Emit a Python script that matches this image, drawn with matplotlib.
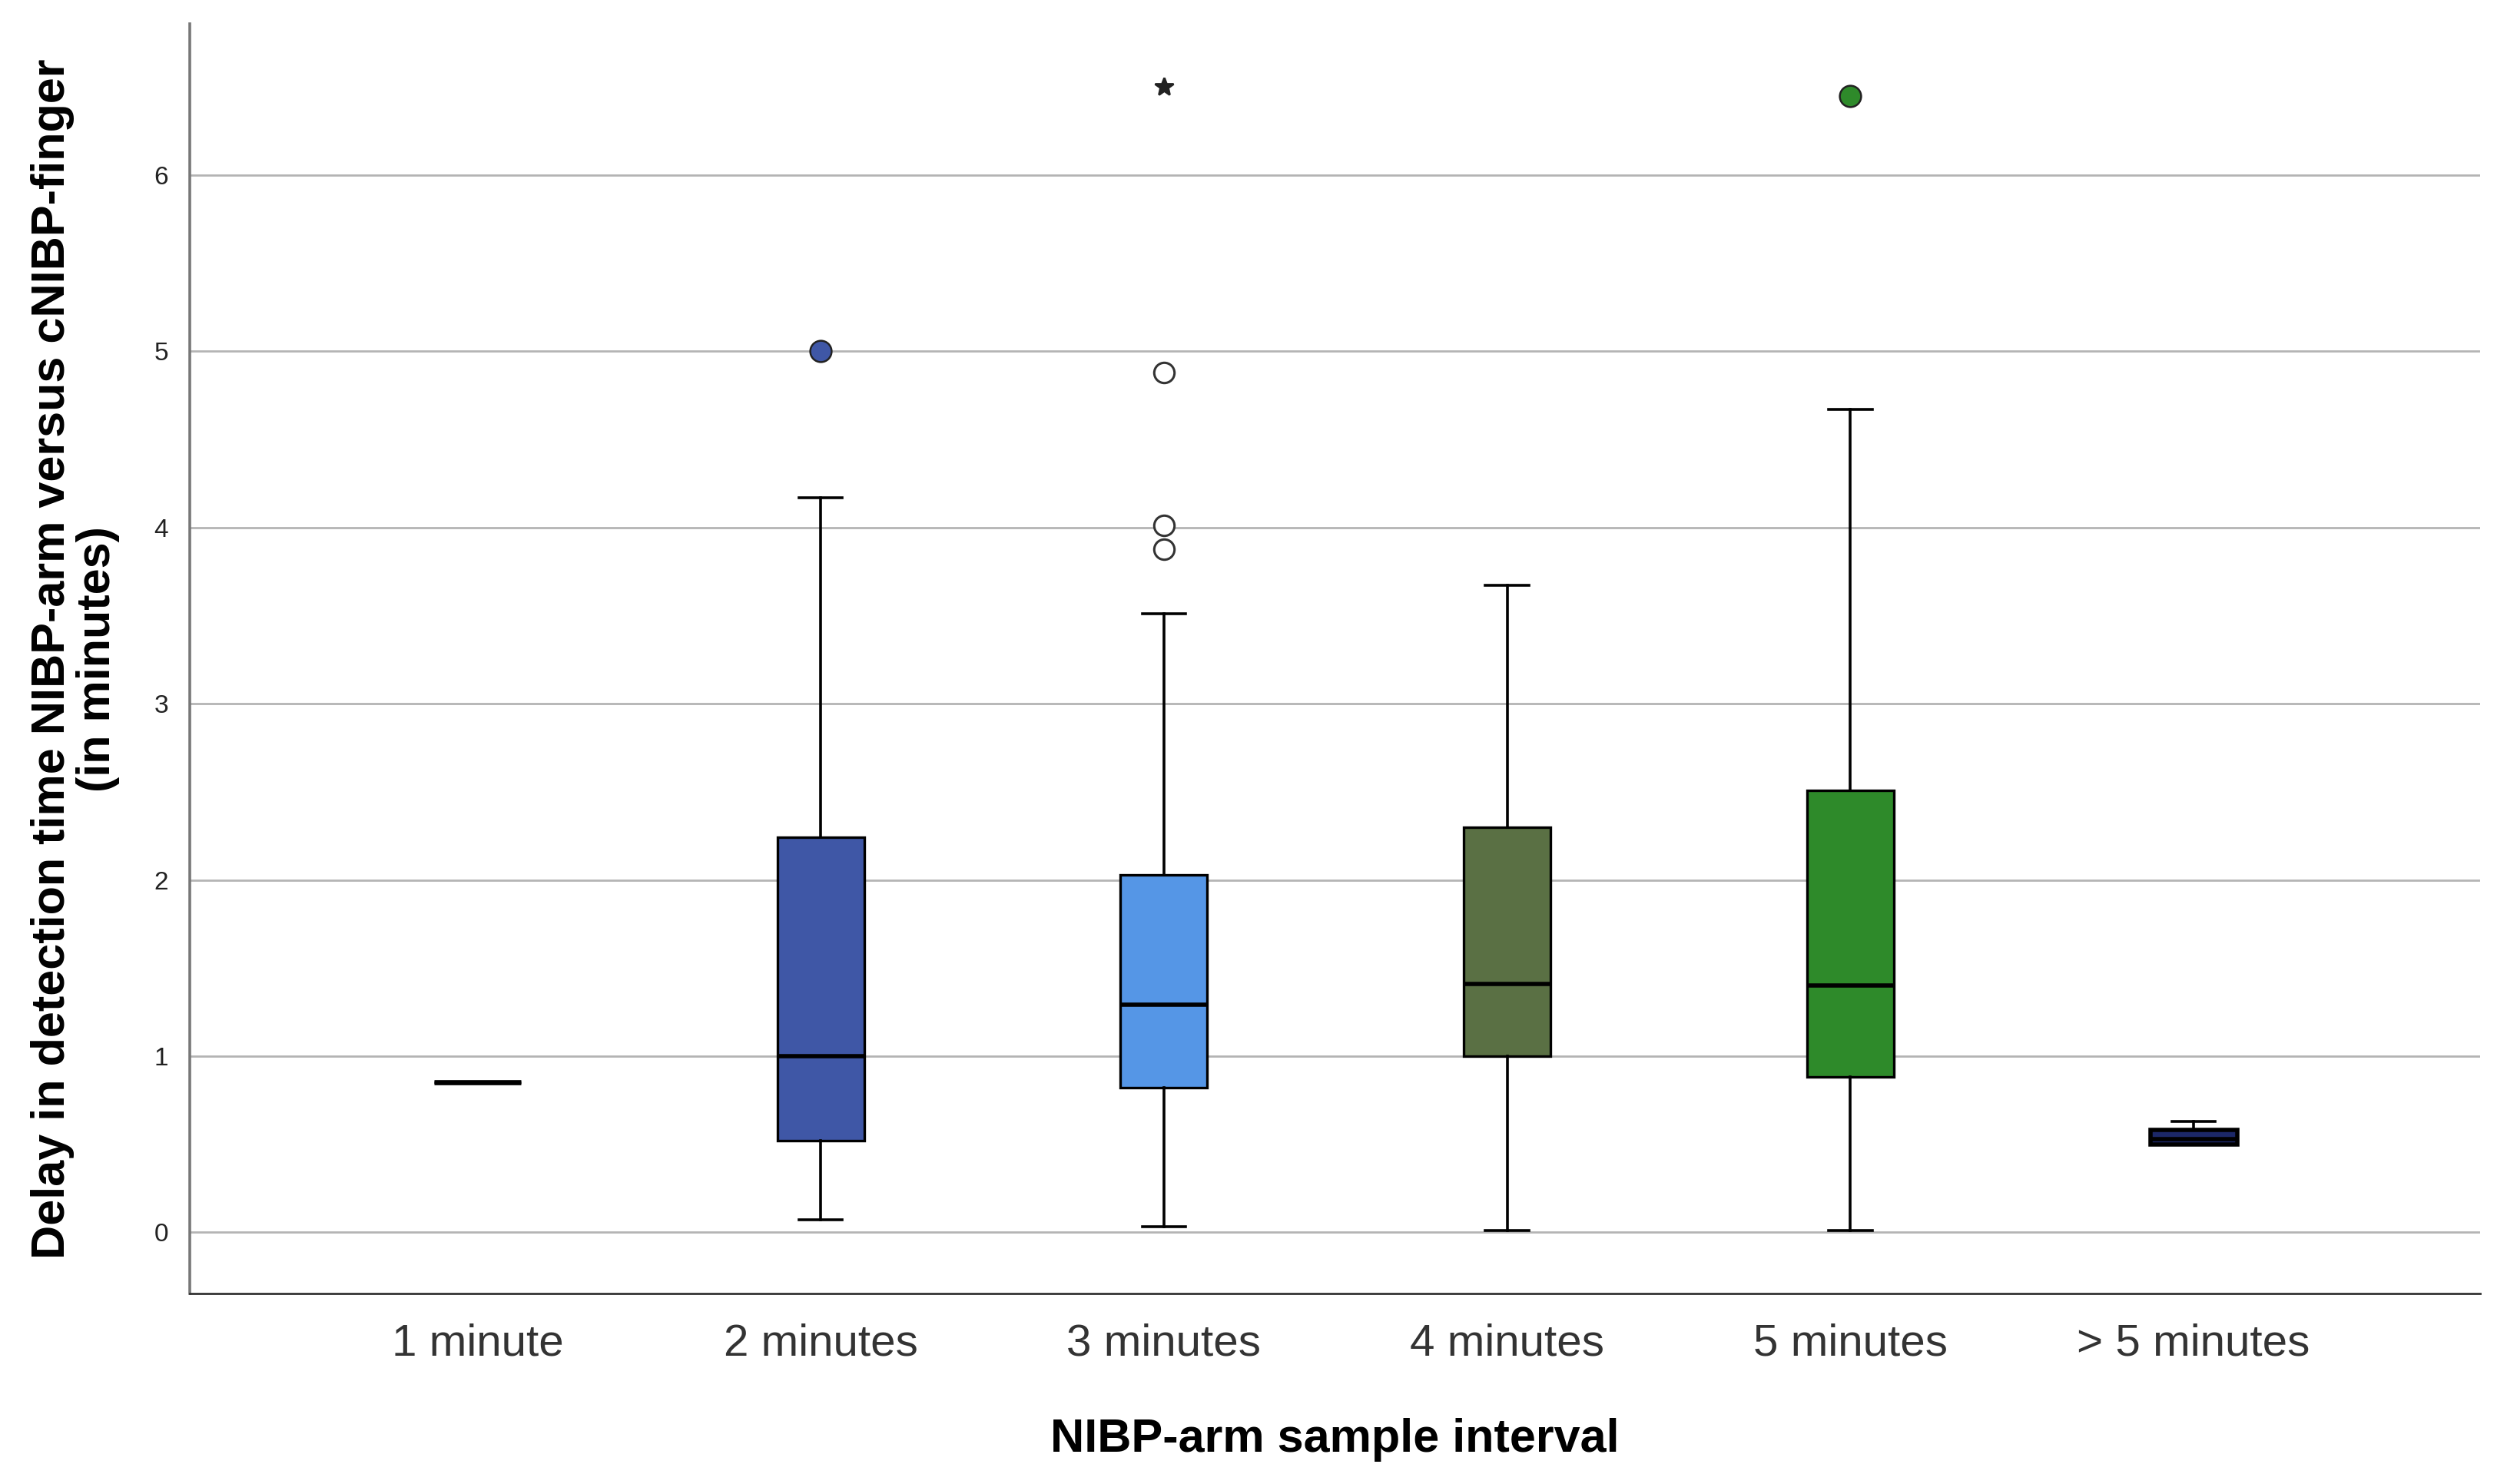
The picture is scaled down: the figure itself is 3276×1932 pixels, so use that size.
import matplotlib
matplotlib.use('Agg')
import matplotlib.pyplot as plt

plt.rcParams['font.family'] = ['Liberation Sans', 'DejaVu Sans']

# summary statistics (minutes)
labels = ['1 minute', '2 minutes', '3 minutes', '4 minutes', '5 minutes', '> 5 minutes']
q1 = [0.85, 0.52, 0.82, 1.00, 0.88, 0.50]
med = [0.85, 1.00, 1.29, 1.41, 1.40, 0.53]
q3 = [0.85, 2.24, 2.03, 2.30, 2.51, 0.58]
whislo = [0.85, 0.07, 0.03, 0.01, 0.01, 0.50]
whishi = [0.85, 4.17, 3.51, 3.67, 4.67, 0.63]
outliers = [[], [5.00], [4.88, 4.01, 3.875], [], [6.45], []]
extremes = [[], [], [6.50], [], [], []]
colors = ['#3F57A6', '#3F57A6', '#5596E6', '#5A7044', '#2E8A2A', '#1C2868']

stats = []
for i in range(len(labels)):
    stats.append({'label': labels[i], 'q1': q1[i], 'med': med[i], 'q3': q3[i],
                  'whislo': whislo[i], 'whishi': whishi[i], 'fliers': []})

fig = plt.figure(figsize=(16.38, 9.66), dpi=200)
ax = fig.add_axes([0.0754, 0.1284, 0.9100, 0.8554])

pos = list(range(len(labels)))
bp = ax.bxp(stats, positions=pos, widths=0.253, patch_artist=True, showfliers=False,
            boxprops=dict(edgecolor='black', linewidth=1.2),
            medianprops=dict(color='black', linewidth=2.0),
            whiskerprops=dict(color='black', linewidth=1.3),
            capprops=dict(color='black', linewidth=1.3), capwidths=0.126,
            zorder=3)
for patch, c in zip(bp['boxes'], colors):
    patch.set_facecolor(c)
bp['medians'][0].set_linewidth(2.4)
bp['boxes'][5].set_linewidth(2.0)

# outliers: filled for 2 and 5 minutes, open for 3 minutes
for i, vals in enumerate(outliers):
    if not vals:
        continue
    if i == 2:
        ax.plot([pos[i]] * len(vals), vals, 'o', markersize=9.5, markerfacecolor='white',
                markeredgecolor='#333333', markeredgewidth=1.1, zorder=4)
    else:
        ax.plot([pos[i]] * len(vals), vals, 'o', markersize=10, markerfacecolor=colors[i],
                markeredgecolor='#222222', markeredgewidth=0.9, zorder=4)
for i, vals in enumerate(extremes):
    if vals:
        ax.plot([pos[i]] * len(vals), vals, '*', markersize=9, color='#222222', zorder=4)

ax.set_xlim(-0.838, 5.835)
ax.set_ylim(-0.347, 6.857)
ax.set_yticks(range(0, 7))
ax.yaxis.grid(True, color='#b4b4b4', linewidth=1.0, zorder=0)
ax.set_axisbelow(True)

ax.spines['top'].set_visible(False)
ax.spines['right'].set_visible(False)
ax.spines['left'].set_color('#777777')
ax.spines['left'].set_linewidth(1.3)
ax.spines['bottom'].set_color('#333333')
ax.spines['bottom'].set_linewidth(1.0)

ax.tick_params(axis='y', length=0, pad=10, labelsize=12, labelcolor='#222222')
ax.tick_params(axis='x', length=0, pad=14, labelsize=21, labelcolor='#333333')

ax.set_xlabel('NIBP-arm sample interval', fontsize=22, fontweight='bold', labelpad=25)
ax.set_ylabel('Delay in detection time NIBP-arm versus cNIBP-finger\n(in minutes)',
              fontsize=22, fontweight='bold', labelpad=16, linespacing=1.05)

fig.savefig('out.png', dpi=200)
